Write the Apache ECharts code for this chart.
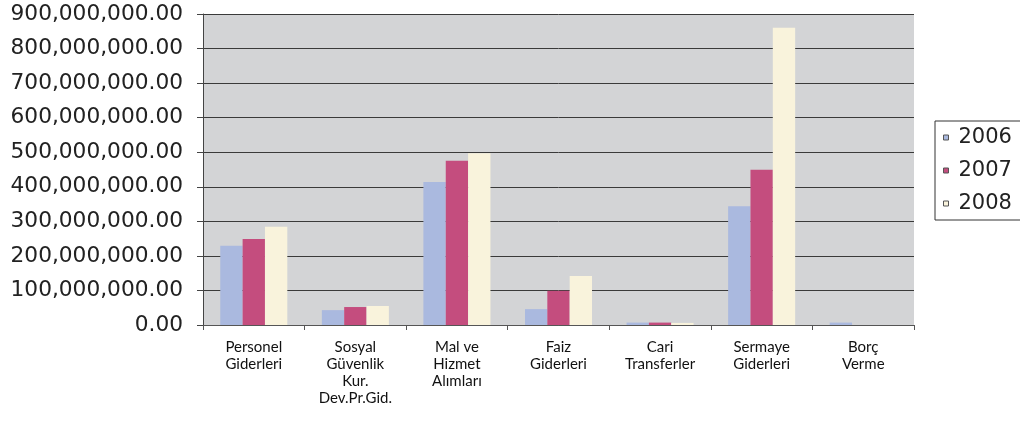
<!DOCTYPE html>
<html>
<head>
<meta charset="utf-8">
<script src="https://cdn.jsdelivr.net/npm/echarts@6/dist/echarts.min.js"></script>
<style>
	html, body { margin: 0; padding: 0; background: #fff; }
	#main { width: 1020px; height: 428px; }
</style>
</head>
<body>
<div id="main"></div>
<script>
	// kalemler (x ekseni)
	const categories = [
		'Personel\nGiderleri',
		'Sosyal\nGüvenlik\nKur.\nDev.Pr.Gid.',
		'Mal ve\nHizmet\nAlımları',
		'Faiz\nGiderleri',
		'Cari\nTransferler',
		'Sermaye\nGiderleri',
		'Borç\nVerme'
	];
	const years = ['2006', '2007', '2008'];
	const data2006 = [229000000, 43000000, 414000000, 46000000, 7000000, 344000000, 7000000];
	const data2007 = [249000000, 52000000, 475000000, 99000000, 7000000, 449000000, 0];
	const data2008 = [284000000, 55000000, 497000000, 142000000, 6000000, 860000000, 0];
	const colors = ['#AAB9DF', '#C44D7E', '#F9F3DC'];

	function fmt(v) {
		let s = Math.round(v).toString().replace(/\B(?=(\d{3})+(?!\d))/g, ',');
		return s + '.00';
	}

	let chart = echarts.init(document.getElementById('main'));
	const option = {
		animation: false,
		color: colors,
		grid: {
			left: 203,
			right: 106,
			top: 14,
			bottom: 103,
			show: true,
			backgroundColor: '#D3D4D6',
			borderWidth: 0
		},
		legend: {
			orient: 'vertical',
			left: 935,
			top: 121,
			padding: [6, 30, 6, 8],
			borderColor: '#333',
			borderWidth: 1,
			backgroundColor: '#fff',
			itemWidth: 5,
			itemHeight: 5,
			itemGap: 12,
			icon: 'rect',
			itemStyle: { borderColor: '#555', borderWidth: 1 },
			textStyle: { fontFamily: 'DejaVu Sans', fontSize: 21, color: '#222', padding: [0, 0, 0, 5] },
			data: years
		},
		xAxis: {
			type: 'category',
			data: categories,
			axisLine: { show: true, lineStyle: { color: '#555', width: 1 } },
			axisTick: { show: true, length: 5, lineStyle: { color: '#555' } },
			axisLabel: {
				interval: 0,
				margin: 14,
				fontFamily: 'Lato',
				fontSize: 15,
				lineHeight: 17,
				color: '#111'
			}
		},
		yAxis: {
			type: 'value',
			min: 0,
			max: 900000000,
			interval: 100000000,
			axisLine: { show: true, lineStyle: { color: '#444', width: 1 } },
			axisTick: { show: true, length: 6, lineStyle: { color: '#444' } },
			splitLine: { show: true, lineStyle: { color: '#3a3a3a', width: 1 } },
			axisLabel: {
				margin: 20,
				fontFamily: 'DejaVu Sans',
				fontSize: 21.7,
				color: '#222',
				formatter: fmt
			}
		},
		series: [
			{ name: years[0], type: 'bar', data: data2006, barGap: '0%', barCategoryGap: '34%' },
			{ name: years[1], type: 'bar', data: data2007, barGap: '0%', barCategoryGap: '34%' },
			{ name: years[2], type: 'bar', data: data2008, barGap: '0%', barCategoryGap: '34%' }
		]
	};
	chart.setOption(option);
	window.addEventListener('resize', () => {
		chart.resize();
	});
</script>
</body>
</html>
